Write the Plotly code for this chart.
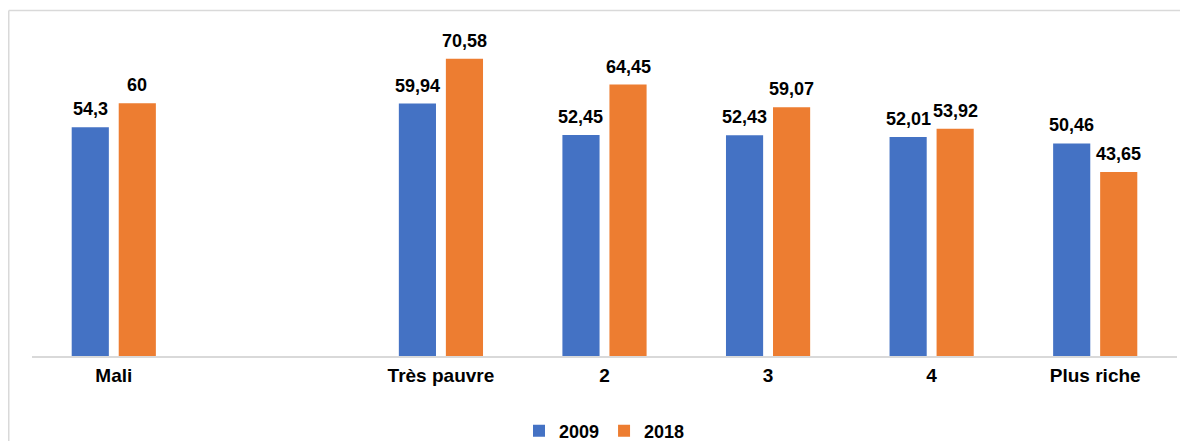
import plotly.graph_objects as go

categories = ["Mali", " ", "Très pauvre", "2", "3", "4", "Plus riche"]
values_2009 = [54.3, None, 59.94, 52.45, 52.43, 52.01, 50.46]
values_2018 = [60, None, 70.58, 64.45, 59.07, 53.92, 43.65]
series_names = ["2009", "2018"]
colors = ["#4472C4", "#ED7D31"]


def fmt(v):
    if v is None:
        return ""
    s = ("%g" % v).replace(".", ",")
    return s


# page is offset by 8px (body margin), so layout coords = reference - 8
L, R_EDGE, TOP, AXIS = 24, 1169, 11, 348
W, H = 1188, 441
PW, PH = R_EDGE - L, AXIS - TOP
BARGAP, GROUPGAP = 0.425, 0.21
cat_w = PW / len(categories)
slot = cat_w * (1 - BARGAP) / 2

fig = go.Figure()
annotations = []
for i, (name, vals, col) in enumerate(zip(series_names, [values_2009, values_2018], colors)):
    fig.add_trace(go.Bar(
        name=name,
        x=categories,
        y=vals,
        marker=dict(color=col, line=dict(width=0)),
    ))
    shift = (i - 0.5) * slot
    for j, v in enumerate(vals):
        if v is None:
            continue
        annotations.append(dict(
            x=j, y=v, xref="x", yref="y", text=fmt(v), showarrow=False,
            xanchor="center", yanchor="bottom", xshift=shift, yshift=6,
            font=dict(family="Liberation Sans, Arial, sans-serif", size=18,
                      color="black", weight="bold"),
        ))

fig.update_layout(
    width=W, height=H,
    margin=dict(l=L, r=W - R_EDGE, t=TOP, b=H - AXIS, autoexpand=False),
    paper_bgcolor="white", plot_bgcolor="white",
    barmode="group", bargap=BARGAP, bargroupgap=GROUPGAP,
    font=dict(family="Liberation Sans, Arial, sans-serif", size=18, color="black"),
    showlegend=True,
    legend=dict(orientation="h", x=0.5, xanchor="center", y=(AXIS - 423) / PH, yanchor="middle",
                font=dict(size=18, weight="bold"), itemwidth=30, traceorder="normal"),
    xaxis=dict(type="category", showline=True, linecolor="#d9d9d9", linewidth=1.5, ticks="",
               tickfont=dict(size=19, weight="bold"), ticklabelstandoff=1,
               showgrid=False, zeroline=False, fixedrange=True),
    yaxis=dict(range=[0, 80], visible=False, showgrid=False, zeroline=False),
    annotations=annotations,
    shapes=[
        dict(type="line", xref="paper", yref="paper",
             x0=(0.75 - L) / PW, x1=(W - L) / PW,
             y0=(AXIS - 2.5) / PH, y1=(AXIS - 2.5) / PH,
             line=dict(color="#d9d9d9", width=1.5)),
        dict(type="line", xref="paper", yref="paper",
             x0=(0.75 - L) / PW, x1=(0.75 - L) / PW,
             y0=(AXIS - 2.5) / PH, y1=(AXIS - H) / PH,
             line=dict(color="#d9d9d9", width=1.5)),
    ],
)

fig.write_html("out.html")
